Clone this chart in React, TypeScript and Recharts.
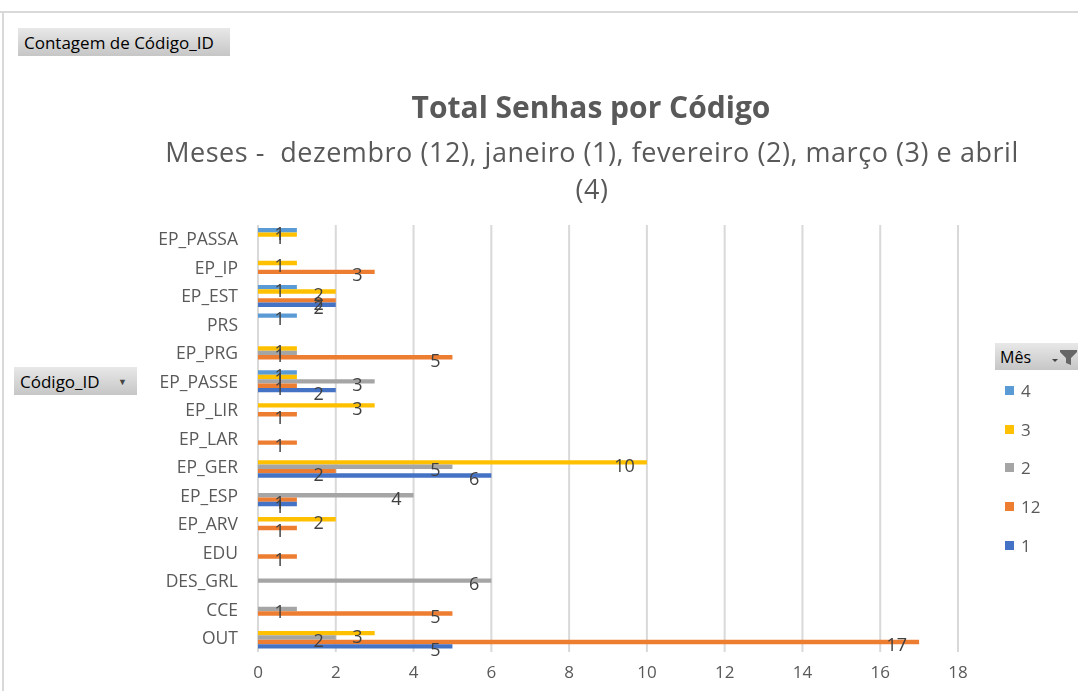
import { BarChart, Bar, XAxis, YAxis, CartesianGrid, LabelList } from 'recharts';

const categories = ['EP_PASSA', 'EP_IP', 'EP_EST', 'PRS', 'EP_PRG', 'EP_PASSE', 'EP_LIR', 'EP_LAR', 'EP_GER', 'EP_ESP', 'EP_ARV', 'EDU', 'DES_GRL', 'CCE', 'OUT'];

// null = no records that month
const mes4 = [1, null, 1, 1, null, 1, null, null, null, null, null, null, null, null, null];
const mes3 = [1, 1, 2, null, 1, 1, 3, null, 10, null, 2, null, null, null, 3];
const mes2 = [null, null, null, null, 1, 3, null, null, 5, 4, null, null, 6, 1, 2];
const mes12 = [null, 3, 2, null, 5, 1, 1, 1, 2, 1, 1, 1, null, 5, 17];
const mes1 = [null, null, 2, null, null, 2, null, null, 6, 1, null, null, null, null, 5];

const xTicks = [0, 2, 4, 6, 8, 10, 12, 14, 16, 18];

const series = [
    { key: 'm4', name: '4', values: mes4, color: '#5B9BD5' },
    { key: 'm3', name: '3', values: mes3, color: '#FFC000' },
    { key: 'm2', name: '2', values: mes2, color: '#A5A5A5' },
    { key: 'm12', name: '12', values: mes12, color: '#ED7D31' },
    { key: 'm1', name: '1', values: mes1, color: '#4472C4' },
];

const chartData = categories.map((cat, i) => {
    const row: Record<string, string | number | null> = { codigo: cat };
    series.forEach(s => {
        row[s.key] = s.values[i];
    });
    return row;
});

const FONT = '"Open Sans", "Noto Sans", sans-serif';

const buttonStyle: React.CSSProperties = {
    position: 'absolute',
    background: 'linear-gradient(#e8e8e8, #c6c6c6)',
    color: '#000',
    fontSize: 16,
    fontFamily: FONT,
    boxSizing: 'border-box',
    display: 'flex',
    alignItems: 'center',
};

const MesLegend = () => (
    <div style={{ position: 'absolute', left: 995, top: 343, width: 83, fontFamily: FONT }}>
        <div style={{ ...buttonStyle, position: 'relative', height: 27, paddingLeft: 5, justifyContent: 'space-between' }}>
            <span>Mês</span>
            <svg width="30" height="18" viewBox="0 0 30 18">
                <path d="M4 11 L10 11 L7 14 Z" fill="#444" />
                <path d="M12 2 L29 2 L29 4 L23 10 L23 17 L18 15 L18 10 L12 4 Z" fill="#666" />
            </svg>
        </div>
        <div style={{ marginTop: 1 }}>
            {series.map(s => (
                <div key={s.key} style={{ display: 'flex', alignItems: 'center', height: 38.7, marginLeft: 10 }}>
                    <span style={{ width: 9, height: 9, background: s.color, display: 'inline-block', marginRight: 7 }} />
                    <span style={{ fontSize: 17, color: '#595959' }}>{s.name}</span>
                </div>
            ))}
        </div>
    </div>
);

const App = () => {
    return (
        <div style={{ position: 'fixed', left: 0, top: 0, width: 1078, height: 691, background: '#fff', fontFamily: FONT }}>
            <div style={{ position: 'absolute', left: 0, top: 11, width: 1078, height: 2, background: '#d9d9d9' }} />
            <div style={{ position: 'absolute', left: 2, top: 11, width: 2, height: 680, background: '#d9d9d9' }} />

            <div style={{ ...buttonStyle, left: 18, top: 28, width: 212, height: 28, paddingLeft: 6, fontSize: 17 }}>Contagem de Código_ID</div>
            <div style={{ ...buttonStyle, left: 14, top: 367, width: 123, height: 28, paddingLeft: 6, justifyContent: 'space-between', paddingRight: 10, fontSize: 17 }}>
                <span>Código_ID</span>
                <span style={{ fontSize: 9, color: '#444' }}>▼</span>
            </div>

            <div style={{ position: 'absolute', left: 0, top: 86, width: 1182, textAlign: 'center', fontSize: 30, fontWeight: 700, color: '#595959', lineHeight: '42px' }}>
                Total Senhas por Código
            </div>
            <div style={{ position: 'absolute', left: 0, top: 133, width: 1184, textAlign: 'center', fontSize: 27, letterSpacing: 0.55, color: '#595959', lineHeight: '37px' }}>
                Meses -&nbsp; dezembro (12), janeiro (1), fevereiro (2), março (3) e abril
                <br />
                (4)
            </div>

            <BarChart
                width={1078}
                height={691}
                data={chartData}
                layout="vertical"
                margin={{ top: 225, right: 120, left: 158, bottom: 9 }}
                barSize={4.4}
                barGap={0}
                style={{ position: 'absolute', left: 0, top: 0 }}
            >
                <CartesianGrid horizontal={false} stroke="#d9d9d9" strokeWidth={2} />
                <XAxis
                    type="number"
                    domain={[0, 18]}
                    ticks={xTicks}
                    axisLine={false}
                    tickLine={false}
                    tickSize={0}
                    tickMargin={14}
                    height={30}
                    tick={{ fill: '#595959', fontSize: 17, fontFamily: FONT }}
                />
                <YAxis
                    type="category"
                    dataKey="codigo"
                    width={100}
                    axisLine={false}
                    tickLine={false}
                    tickSize={0}
                    tickMargin={20}
                    interval={0}
                    tick={{ fill: '#595959', fontSize: 17.5, fontFamily: FONT }}
                />
                {series.map(s => (
                    <Bar key={s.key} dataKey={s.key} name={s.name} fill={s.color} isAnimationActive={false}>
                        <LabelList
                            dataKey={s.key}
                            position="insideRight"
                            offset={12}
                            fill="#404040"
                            fontSize={18}
                            fontFamily={FONT}
                            dy={3}
                        />
                    </Bar>
                ))}
            </BarChart>
            <MesLegend />
        </div>
    );
};

export default App;
